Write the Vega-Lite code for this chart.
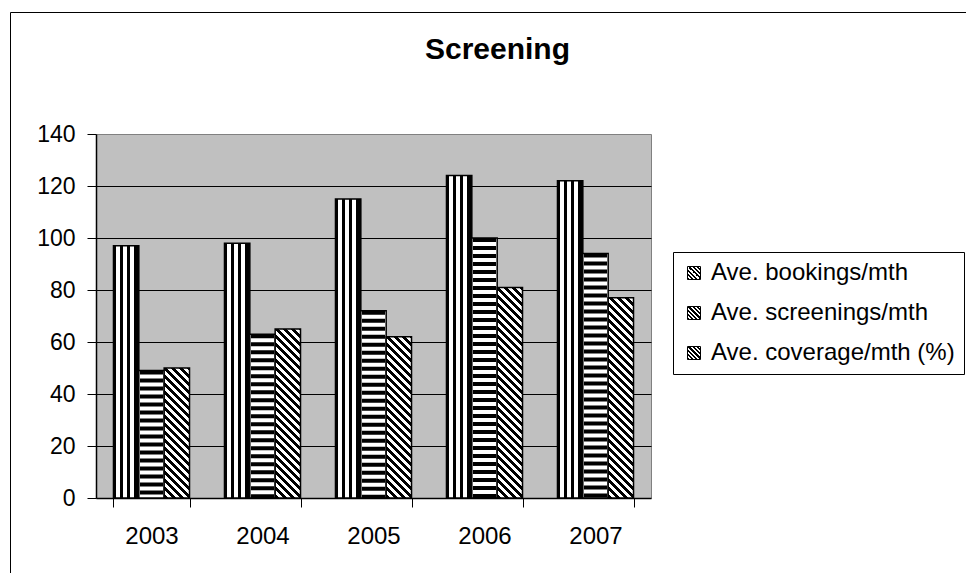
{
  "$schema": "https://vega.github.io/schema/vega-lite/v6.json",
  "width": 555,
  "height": 364,
  "autosize": {"type": "none"},
  "padding": {"left": 96, "top": 134, "right": 315, "bottom": 75},
  "background": "white",
  "params": [
    {"name": "vstops", "value": [
      {"offset": 0, "color": "#000"}, {"offset": 0.1, "color": "#000"},
      {"offset": 0.1, "color": "#fff"}, {"offset": 0.25, "color": "#fff"},
      {"offset": 0.25, "color": "#000"}, {"offset": 0.38, "color": "#000"},
      {"offset": 0.38, "color": "#fff"}, {"offset": 0.53, "color": "#fff"},
      {"offset": 0.53, "color": "#000"}, {"offset": 0.67, "color": "#000"},
      {"offset": 0.67, "color": "#fff"}, {"offset": 0.82, "color": "#fff"},
      {"offset": 0.82, "color": "#000"}, {"offset": 1, "color": "#000"}
    ]},
    {"name": "lstops", "value": [
      {"offset": 0, "color": "#fff"}, {"offset": 0.25, "color": "#fff"},
      {"offset": 0.25, "color": "#000"}, {"offset": 0.42, "color": "#000"},
      {"offset": 0.42, "color": "#fff"}, {"offset": 0.58, "color": "#fff"},
      {"offset": 0.58, "color": "#000"}, {"offset": 0.75, "color": "#000"},
      {"offset": 0.75, "color": "#fff"}, {"offset": 1, "color": "#fff"}
    ]},
    {"name": "hstops", "value": [
      {"offset": 0, "color": "#fff"}, {"offset": 0.35, "color": "#fff"},
      {"offset": 0.35, "color": "#000"}, {"offset": 0.65, "color": "#000"},
      {"offset": 0.65, "color": "#fff"}, {"offset": 1, "color": "#fff"}
    ]},
    {"name": "dstops", "value": [
      {"offset": 0, "color": "#000"}, {"offset": 0.015625, "color": "#000"},
      {"offset": 0.015625, "color": "#fff"}, {"offset": 0.03125, "color": "#fff"},
      {"offset": 0.03125, "color": "#000"}, {"offset": 0.046875, "color": "#000"},
      {"offset": 0.046875, "color": "#fff"}, {"offset": 0.0625, "color": "#fff"},
      {"offset": 0.0625, "color": "#000"}, {"offset": 0.078125, "color": "#000"},
      {"offset": 0.078125, "color": "#fff"}, {"offset": 0.09375, "color": "#fff"},
      {"offset": 0.09375, "color": "#000"}, {"offset": 0.109375, "color": "#000"},
      {"offset": 0.109375, "color": "#fff"}, {"offset": 0.125, "color": "#fff"},
      {"offset": 0.125, "color": "#000"}, {"offset": 0.140625, "color": "#000"},
      {"offset": 0.140625, "color": "#fff"}, {"offset": 0.15625, "color": "#fff"},
      {"offset": 0.15625, "color": "#000"}, {"offset": 0.171875, "color": "#000"},
      {"offset": 0.171875, "color": "#fff"}, {"offset": 0.1875, "color": "#fff"},
      {"offset": 0.1875, "color": "#000"}, {"offset": 0.203125, "color": "#000"},
      {"offset": 0.203125, "color": "#fff"}, {"offset": 0.21875, "color": "#fff"},
      {"offset": 0.21875, "color": "#000"}, {"offset": 0.234375, "color": "#000"},
      {"offset": 0.234375, "color": "#fff"}, {"offset": 0.25, "color": "#fff"},
      {"offset": 0.25, "color": "#000"}, {"offset": 0.265625, "color": "#000"},
      {"offset": 0.265625, "color": "#fff"}, {"offset": 0.28125, "color": "#fff"},
      {"offset": 0.28125, "color": "#000"}, {"offset": 0.296875, "color": "#000"},
      {"offset": 0.296875, "color": "#fff"}, {"offset": 0.3125, "color": "#fff"},
      {"offset": 0.3125, "color": "#000"}, {"offset": 0.328125, "color": "#000"},
      {"offset": 0.328125, "color": "#fff"}, {"offset": 0.34375, "color": "#fff"},
      {"offset": 0.34375, "color": "#000"}, {"offset": 0.359375, "color": "#000"},
      {"offset": 0.359375, "color": "#fff"}, {"offset": 0.375, "color": "#fff"},
      {"offset": 0.375, "color": "#000"}, {"offset": 0.390625, "color": "#000"},
      {"offset": 0.390625, "color": "#fff"}, {"offset": 0.40625, "color": "#fff"},
      {"offset": 0.40625, "color": "#000"}, {"offset": 0.421875, "color": "#000"},
      {"offset": 0.421875, "color": "#fff"}, {"offset": 0.4375, "color": "#fff"},
      {"offset": 0.4375, "color": "#000"}, {"offset": 0.453125, "color": "#000"},
      {"offset": 0.453125, "color": "#fff"}, {"offset": 0.46875, "color": "#fff"},
      {"offset": 0.46875, "color": "#000"}, {"offset": 0.484375, "color": "#000"},
      {"offset": 0.484375, "color": "#fff"}, {"offset": 0.5, "color": "#fff"},
      {"offset": 0.5, "color": "#000"}, {"offset": 0.515625, "color": "#000"},
      {"offset": 0.515625, "color": "#fff"}, {"offset": 0.53125, "color": "#fff"},
      {"offset": 0.53125, "color": "#000"}, {"offset": 0.546875, "color": "#000"},
      {"offset": 0.546875, "color": "#fff"}, {"offset": 0.5625, "color": "#fff"},
      {"offset": 0.5625, "color": "#000"}, {"offset": 0.578125, "color": "#000"},
      {"offset": 0.578125, "color": "#fff"}, {"offset": 0.59375, "color": "#fff"},
      {"offset": 0.59375, "color": "#000"}, {"offset": 0.609375, "color": "#000"},
      {"offset": 0.609375, "color": "#fff"}, {"offset": 0.625, "color": "#fff"},
      {"offset": 0.625, "color": "#000"}, {"offset": 0.640625, "color": "#000"},
      {"offset": 0.640625, "color": "#fff"}, {"offset": 0.65625, "color": "#fff"},
      {"offset": 0.65625, "color": "#000"}, {"offset": 0.671875, "color": "#000"},
      {"offset": 0.671875, "color": "#fff"}, {"offset": 0.6875, "color": "#fff"},
      {"offset": 0.6875, "color": "#000"}, {"offset": 0.703125, "color": "#000"},
      {"offset": 0.703125, "color": "#fff"}, {"offset": 0.71875, "color": "#fff"},
      {"offset": 0.71875, "color": "#000"}, {"offset": 0.734375, "color": "#000"},
      {"offset": 0.734375, "color": "#fff"}, {"offset": 0.75, "color": "#fff"},
      {"offset": 0.75, "color": "#000"}, {"offset": 0.765625, "color": "#000"},
      {"offset": 0.765625, "color": "#fff"}, {"offset": 0.78125, "color": "#fff"},
      {"offset": 0.78125, "color": "#000"}, {"offset": 0.796875, "color": "#000"},
      {"offset": 0.796875, "color": "#fff"}, {"offset": 0.8125, "color": "#fff"},
      {"offset": 0.8125, "color": "#000"}, {"offset": 0.828125, "color": "#000"},
      {"offset": 0.828125, "color": "#fff"}, {"offset": 0.84375, "color": "#fff"},
      {"offset": 0.84375, "color": "#000"}, {"offset": 0.859375, "color": "#000"},
      {"offset": 0.859375, "color": "#fff"}, {"offset": 0.875, "color": "#fff"},
      {"offset": 0.875, "color": "#000"}, {"offset": 0.890625, "color": "#000"},
      {"offset": 0.890625, "color": "#fff"}, {"offset": 0.90625, "color": "#fff"},
      {"offset": 0.90625, "color": "#000"}, {"offset": 0.921875, "color": "#000"},
      {"offset": 0.921875, "color": "#fff"}, {"offset": 0.9375, "color": "#fff"},
      {"offset": 0.9375, "color": "#000"}, {"offset": 0.953125, "color": "#000"},
      {"offset": 0.953125, "color": "#fff"}, {"offset": 0.96875, "color": "#fff"},
      {"offset": 0.96875, "color": "#000"}, {"offset": 0.984375, "color": "#000"},
      {"offset": 0.984375, "color": "#fff"}, {"offset": 1, "color": "#fff"}
    ]}
  ],
  "title": {
    "text": "Screening",
    "font": "Liberation Sans",
    "fontSize": 30,
    "fontWeight": "bold",
    "color": "black",
    "anchor": "middle",
    "frame": "group",
    "dx": 124,
    "offset": -77,
    "baseline": "alphabetic"
  },
  "data": {
    "values": [
      {"year": "2003", "series": "Ave. bookings/mth", "value": 97},
      {"year": "2003", "series": "Ave. screenings/mth", "value": 49},
      {"year": "2003", "series": "Ave. coverage/mth (%)", "value": 50},
      {"year": "2004", "series": "Ave. bookings/mth", "value": 98},
      {"year": "2004", "series": "Ave. screenings/mth", "value": 63},
      {"year": "2004", "series": "Ave. coverage/mth (%)", "value": 65},
      {"year": "2005", "series": "Ave. bookings/mth", "value": 115},
      {"year": "2005", "series": "Ave. screenings/mth", "value": 72},
      {"year": "2005", "series": "Ave. coverage/mth (%)", "value": 62},
      {"year": "2006", "series": "Ave. bookings/mth", "value": 124},
      {"year": "2006", "series": "Ave. screenings/mth", "value": 100},
      {"year": "2006", "series": "Ave. coverage/mth (%)", "value": 81},
      {"year": "2007", "series": "Ave. bookings/mth", "value": 122},
      {"year": "2007", "series": "Ave. screenings/mth", "value": 94},
      {"year": "2007", "series": "Ave. coverage/mth (%)", "value": 77}
    ]
  },
  "encoding": {
    "x": {
      "field": "year",
      "type": "nominal",
      "scale": {"paddingInner": 0.315, "paddingOuter": 0.1575},
      "axis": {
        "title": null,
        "labelAngle": 0,
        "tickBand": "extent",
        "tickSize": 9,
        "labelPadding": 17,
        "labelFontSize": 24,
        "labelFont": "Liberation Sans",
        "labelColor": "black",
        "domainColor": "black",
        "domainWidth": 1.5,
        "tickColor": "black",
        "tickWidth": 1,
        "grid": false
      }
    },
    "xOffset": {
      "field": "series",
      "type": "nominal",
      "scale": {
        "domain": ["Ave. bookings/mth", "Ave. screenings/mth", "Ave. coverage/mth (%)"],
        "paddingInner": 0,
        "paddingOuter": 0
      }
    },
    "y": {
      "field": "value",
      "type": "quantitative",
      "stack": null,
      "scale": {"domain": [0, 140], "nice": false},
      "axis": {
        "title": null,
        "values": [0, 20, 40, 60, 80, 100, 120, 140],
        "tickSize": 9,
        "labelPadding": 12,
        "labelFontSize": 23,
        "labelFont": "Liberation Sans",
        "labelColor": "black",
        "domainColor": "black",
        "domainWidth": 1.5,
        "tickColor": "black",
        "tickWidth": 1,
        "grid": true,
        "gridColor": {"condition": {"test": "datum.value === 0 || datum.value === 140", "value": "transparent"}, "value": "black"},
        "gridWidth": 1
      }
    }
  },
  "layer": [
    {
      "mark": {"type": "bar", "strokeWidth": 1.5},
      "encoding": {
        "fill": {"value": {"expr": "datum.series === 'Ave. bookings/mth' ? {gradient: 'linear', x1: 0, y1: 0, x2: 1, y2: 0, stops: vstops} : datum.series === 'Ave. screenings/mth' ? '#ffffff' : {gradient: 'linear', x1: 0, y1: 1, x2: 256 * bandwidth('xOffset') / (pow(bandwidth('xOffset'), 2) + pow(scale('y', 0) - scale('y', datum.value), 2)), y2: 1 - 256 * (scale('y', 0) - scale('y', datum.value)) / (pow(bandwidth('xOffset'), 2) + pow(scale('y', 0) - scale('y', datum.value), 2)), stops: dstops}"}},
        "stroke": {
          "field": "series",
          "type": "nominal",
          "scale": {
            "domain": ["Ave. bookings/mth", "Ave. screenings/mth", "Ave. coverage/mth (%)"],
            "range": ["#000000", "#000000", "#000000"]
          },
          "legend": {
            "orient": "none",
            "legendX": 577,
            "legendY": 118,
            "title": null,
            "strokeColor": "black",
            "fillColor": "white",
            "padding": 9,
            "rowPadding": 16,
            "labelFontSize": 24,
            "labelFont": "Liberation Sans",
            "labelColor": "black",
            "labelLimit": 400,
            "labelOffset": 5,
            "symbolType": "square",
            "symbolSize": 169,
            "symbolStrokeWidth": 1,
            "symbolStrokeColor": "black",
            "encode": {
              "symbols": {
                "update": {
                  "fill": {"signal": "datum.value === 'Ave. bookings/mth' ? {gradient: 'linear', x1: 0, y1: 0, x2: 1, y2: 0, stops: lstops} : datum.value === 'Ave. screenings/mth' ? {gradient: 'linear', x1: 0, y1: 0, x2: 0, y2: 1, stops: hstops} : {gradient: 'linear', x1: 0, y1: 1, x2: 1, y2: 0, stops: lstops}"},
                  "stroke": {"value": "black"},
                  "strokeWidth": {"value": 1}
                }
              }
            }
          }
        }
      }
    },
    {
      "transform": [{"filter": "datum.series === 'Ave. screenings/mth'"}],
      "mark": {"type": "rule", "color": "black", "strokeWidth": 23, "strokeDash": [4, 4], "strokeCap": "butt"},
      "encoding": {
        "y2": {"datum": 0},
        "opacity": {
          "field": "year",
          "type": "nominal",
          "scale": {"type": "ordinal", "domain": ["2003", "2004", "2005", "2006", "2007"], "range": [1, 1, 1, 1, 1]},
          "legend": {
            "orient": "none",
            "legendX": -86,
            "legendY": -122,
            "title": null,
            "direction": "horizontal",
            "padding": 480,
            "strokeColor": "black",
            "labelExpr": "''",
            "labelFontSize": 1,
            "symbolSize": 0,
            "symbolStrokeWidth": 0,
            "symbolOpacity": 0,
            "encode": {
              "symbols": {"update": {"opacity": {"value": 0}}},
              "labels": {"update": {"opacity": {"value": 0}}}
            }
          }
        }
      }
    }
  ],
  "config": {
    "font": "Liberation Sans",
    "view": {"fill": "#c0c0c0", "stroke": "#808080", "strokeWidth": 1}
  }
}
